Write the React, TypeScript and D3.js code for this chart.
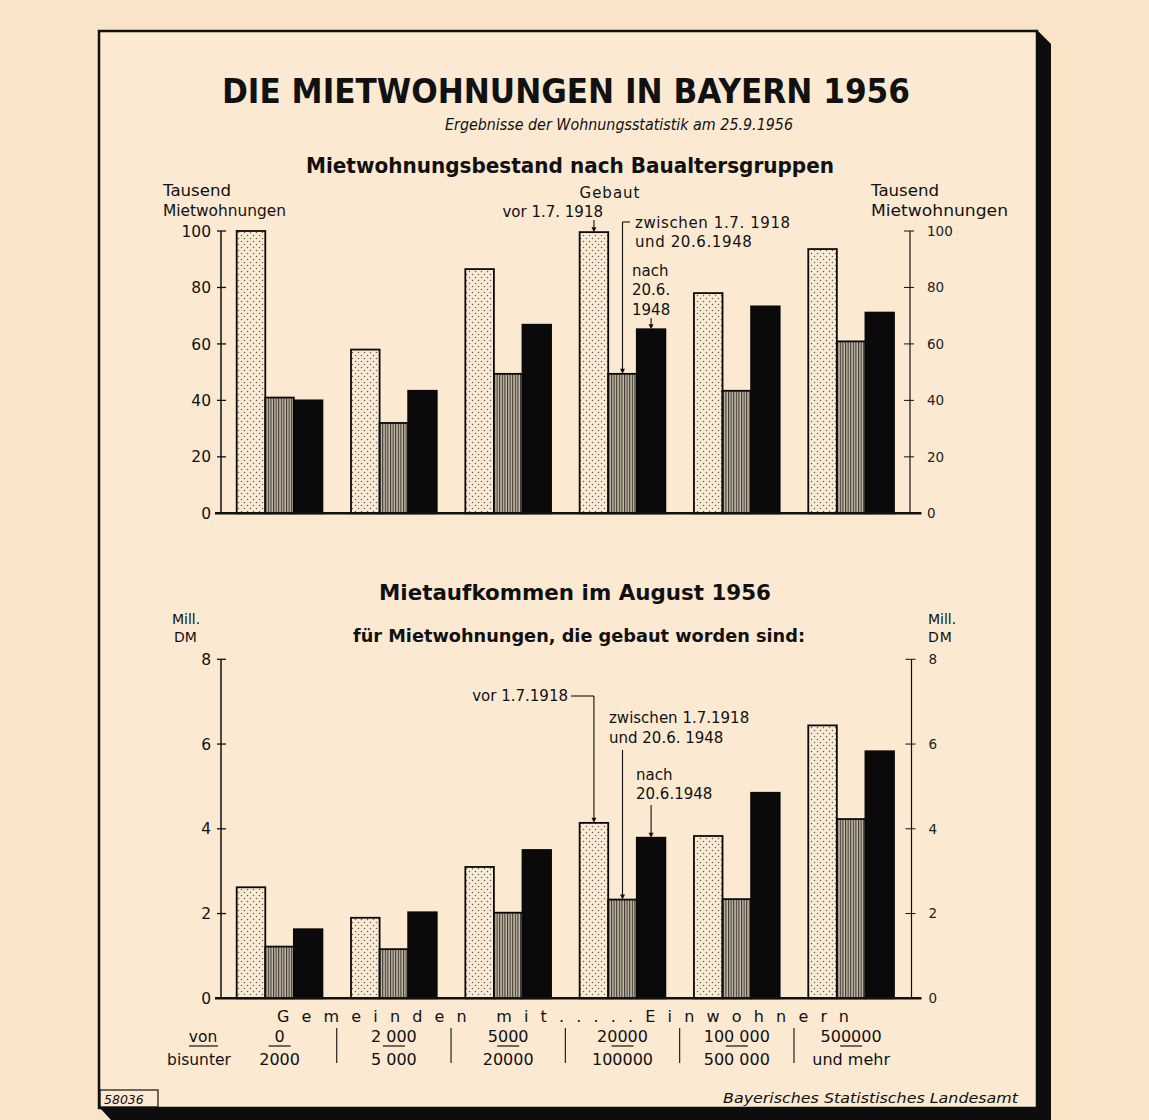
import React from "react";
import * as d3 from "d3";

const groups = ["0-2000", "2000-5000", "5000-20000", "20000-100000", "100000-500000", "500000+"];
const fromLabels = ["0", "2 000", "5000", "20000", "100 000", "500000"];
const toLabels = ["2000", "5 000", "20000", "100000", "500 000", "und mehr"];
const series = ["vor", "zwischen", "nach"];

const stockBefore1918 = [100, 58, 86.5, 99.6, 78, 93.6];
const stock1918to1948 = [41, 32, 49.4, 49.4, 43.4, 60.9];
const stockAfter1948 = [40, 43.4, 66.8, 65.2, 73.3, 71.1];

const rentBefore1918 = [2.62, 1.9, 3.1, 4.14, 3.83, 6.44];
const rent1918to1948 = [1.22, 1.16, 2.02, 2.33, 2.34, 4.23];
const rentAfter1948 = [1.63, 2.03, 3.5, 3.79, 4.85, 5.83];

const stockTicks = [0, 20, 40, 60, 80, 100];
const rentTicks = [0, 2, 4, 6, 8];

const W = 1149;
const H = 1120;
const BG = "#f9e4c7";
const PAPER = "#fbe9d1";
const FONT = "'DejaVu Sans', 'Liberation Sans', sans-serif";

const x0 = d3.scaleBand<string>().domain(groups).range([236.7, 894]).paddingInner(0.25).paddingOuter(0);
const x1 = d3.scaleBand<string>().domain(series).range([0, x0.bandwidth()]).padding(0);

const yTop = d3.scaleLinear().domain([0, 100]).range([513.3, 231]);
const yBot = d3.scaleLinear().domain([0, 8]).range([998.3, 659.3]);

const fills = ["url(#dots)", "url(#hatch)", "#0a0a0a"];

function Bars({ data, y }: { data: number[][]; y: d3.ScaleLinear<number, number> }) {
  return (
    <g>
      {groups.map((g, gi) =>
        series.map((s, si) => {
          const v = data[si][gi];
          const x = (x0(g) as number) + (x1(s) as number);
          return (
            <rect
              key={g + s}
              x={x}
              y={y(v)}
              width={x1.bandwidth()}
              height={y(0) - y(v)}
              fill={fills[si]}
              stroke="#0a0a0a"
              strokeWidth={1.8}
            />
          );
        })
      )}
    </g>
  );
}

function Axis({
  y,
  ticks,
  xLeft,
  xRight,
}: {
  y: d3.ScaleLinear<number, number>;
  ticks: number[];
  xLeft: number;
  xRight: number;
}) {
  const [y0, y1] = y.range();
  return (
    <g stroke="#111" fill="none">
      <line x1={xLeft} x2={xLeft} y1={y0} y2={y1} strokeWidth={1.5} />
      <line x1={xRight} x2={xRight} y1={y0} y2={y1} strokeWidth={1.2} />
      {ticks.map((t) => (
        <g key={t}>
          <line x1={xLeft - 4} x2={xLeft + 5} y1={y(t)} y2={y(t)} strokeWidth={1.3} />
          <line x1={xRight - 6} x2={xRight + 4} y1={y(t)} y2={y(t)} strokeWidth={1} />
          <text
            x={xLeft - 10}
            y={y(t)}
            dy="0.36em"
            textAnchor="end"
            stroke="none"
            fill="#111"
            fontSize={15.5}
            fontFamily={FONT}
          >
            {t}
          </text>
          <text
            x={xRight + 17}
            y={y(t)}
            dy="0.36em"
            textAnchor="start"
            stroke="none"
            fill="#222"
            fontSize={13.5}
            fontFamily={FONT}
          >
            {t}
          </text>
        </g>
      ))}
      <line x1={215} x2={921.5} y1={y0} y2={y0} strokeWidth={2.6} />
    </g>
  );
}

function Arrow({ x, yA, yB }: { x: number; yA: number; yB: number }) {
  return (
    <g>
      <line x1={x} x2={x} y1={yA} y2={yB - 4} stroke="#111" strokeWidth={1.1} />
      <path d={`M${x - 2.5},${yB - 5} L${x + 2.5},${yB - 5} L${x},${yB} Z`} fill="#111" />
    </g>
  );
}

export default function App() {
  const stock = [stockBefore1918, stock1918to1948, stockAfter1948];
  const rent = [rentBefore1918, rent1918to1948, rentAfter1948];
  const cx = (gi: number, si: number) => (x0(groups[gi]) as number) + (x1(series[si]) as number) + x1.bandwidth() / 2;
  const step = x0.step();
  const txt = { fontFamily: FONT, fill: "#111" } as const;

  return (
    <svg width={W} height={H} style={{ position: "absolute", left: 0, top: 0 }}>
      <defs>
        <pattern id="dots" width="6" height="6" patternUnits="userSpaceOnUse">
          <rect width="6" height="6" fill="#f8ead5" />
          <circle cx="1.5" cy="1.5" r="0.75" fill="#6a5e50" />
          <circle cx="4.5" cy="4.5" r="0.75" fill="#6a5e50" />
        </pattern>
        <pattern id="hatch" width="2.6" height="4" patternUnits="userSpaceOnUse">
          <rect width="2.6" height="4" fill="#c8bca8" />
          <rect width="1.1" height="4" fill="#3a352e" />
        </pattern>
      </defs>
      <rect width={W} height={H} fill={BG} />
      {/* frame */}
      <rect x={99} y={31} width={938} height={1077} fill={PAPER} stroke="#111" strokeWidth={2.5} />
      <path d="M1037,30 L1051,44 L1051,1120 L1037,1120 Z" fill="#0d0d0d" />
      <path d="M99,1107 L1051,1107 L1051,1120 L111,1120 Z" fill="#0d0d0d" />

      {/* titles */}
      <text x={566} y={103} textAnchor="middle" fontSize={34} fontWeight="bold" textLength={688} lengthAdjust="spacingAndGlyphs" {...txt}>
        DIE MIETWOHNUNGEN IN BAYERN 1956
      </text>
      <text x={619} y={130} textAnchor="middle" fontSize={15} fontStyle="italic" textLength={348} lengthAdjust="spacingAndGlyphs" {...txt}>
        Ergebnisse der Wohnungsstatistik am 25.9.1956
      </text>
      <text x={570} y={173} textAnchor="middle" fontSize={22} fontWeight={600} textLength={528} lengthAdjust="spacingAndGlyphs" {...txt}>
        Mietwohnungsbestand nach Baualtersgruppen
      </text>

      {/* top chart labels */}
      <text x={163} y={196} fontSize={15} textLength={68} lengthAdjust="spacingAndGlyphs" {...txt}>Tausend</text>
      <text x={163} y={216} fontSize={15} textLength={123} lengthAdjust="spacingAndGlyphs" {...txt}>Mietwohnungen</text>
      <text x={871} y={196} fontSize={15} textLength={68} lengthAdjust="spacingAndGlyphs" {...txt}>Tausend</text>
      <text x={871} y={216} fontSize={15} textLength={137} lengthAdjust="spacingAndGlyphs" {...txt}>Mietwohnungen</text>

      <Bars data={stock} y={yTop} />
      <Axis y={yTop} ticks={stockTicks} xLeft={221} xRight={910} />

      {/* top annotations */}
      <text x={610} y={198} textAnchor="middle" fontSize={15} letterSpacing={1} {...txt}>Gebaut</text>
      <text x={603} y={217} textAnchor="end" fontSize={15} {...txt}>vor 1.7. 1918</text>
      <Arrow x={cx(3, 0)} yA={220} yB={yTop(stockBefore1918[3])} />
      <text x={635} y={228} fontSize={15} letterSpacing={0.6} {...txt}>zwischen 1.7. 1918</text>
      <text x={635} y={247} fontSize={15} letterSpacing={0.6} {...txt}>und 20.6.1948</text>
      <path d={`M630,222 L${cx(3, 1)},222`} stroke="#111" strokeWidth={1.1} fill="none" />
      <Arrow x={cx(3, 1)} yA={222} yB={yTop(stock1918to1948[3])} />
      <text x={632} y={276} fontSize={15} {...txt}>nach</text>
      <text x={632} y={295} fontSize={15} {...txt}>20.6.</text>
      <text x={632} y={315} fontSize={15} {...txt}>1948</text>
      <Arrow x={cx(3, 2)} yA={318} yB={yTop(stockAfter1948[3])} />

      {/* bottom headings */}
      <text x={575} y={600} textAnchor="middle" fontSize={22} fontWeight="bold" textLength={392} lengthAdjust="spacingAndGlyphs" {...txt}>
        Mietaufkommen im August 1956
      </text>
      <text x={579} y={642} textAnchor="middle" fontSize={18} fontWeight={600} textLength={452} lengthAdjust="spacingAndGlyphs" {...txt}>
        für Mietwohnungen, die gebaut worden sind:
      </text>
      <text x={172} y={624} fontSize={14} {...txt}>Mill.</text>
      <text x={174} y={642} fontSize={14} {...txt}>DM</text>
      <text x={928} y={624} fontSize={14} {...txt}>Mill.</text>
      <text x={928} y={642} fontSize={14} letterSpacing={1} {...txt}>DM</text>

      <Bars data={rent} y={yBot} />
      <Axis y={yBot} ticks={rentTicks} xLeft={221} xRight={911.5} />

      {/* bottom annotations */}
      <text x={568} y={701} textAnchor="end" fontSize={15} {...txt}>vor 1.7.1918</text>
      <path d={`M571,696 L${cx(3, 0)},696`} stroke="#111" strokeWidth={1.1} fill="none" />
      <Arrow x={cx(3, 0)} yA={696} yB={yBot(rentBefore1918[3])} />
      <text x={609} y={723} fontSize={15} {...txt}>zwischen 1.7.1918</text>
      <text x={609} y={743} fontSize={15} {...txt}>und 20.6. 1948</text>
      <Arrow x={cx(3, 1)} yA={750} yB={yBot(rent1918to1948[3])} />
      <text x={636} y={780} fontSize={15} {...txt}>nach</text>
      <text x={636} y={799} fontSize={15} {...txt}>20.6.1948</text>
      <Arrow x={cx(3, 2)} yA={805} yB={yBot(rentAfter1948[3])} />

      {/* category labels */}
      <text x={563} y={1022} textAnchor="middle" fontSize={16} textLength={572} lengthAdjust="spacing" {...txt}>
        Gemeinden mit.....Einwohnern
      </text>
      <text x={203} y={1042} textAnchor="middle" fontSize={15.5} {...txt}>von</text>
      <line x1={189} x2={218} y1={1046} y2={1046} stroke="#111" strokeWidth={1.2} />
      <text x={199} y={1065} textAnchor="middle" fontSize={15.5} {...txt}>bisunter</text>
      {groups.map((g, gi) => {
        const c = (x0(g) as number) + x0.bandwidth() / 2;
        return (
          <g key={g}>
            <text x={c} y={1042} textAnchor="middle" fontSize={16} {...txt}>{fromLabels[gi]}</text>
            <line x1={c - 11} x2={c + 11} y1={1046} y2={1046} stroke="#111" strokeWidth={1.2} />
            <text x={c} y={1065} textAnchor="middle" fontSize={16} {...txt}>{toLabels[gi]}</text>
            {gi > 0 && (
              <line
                x1={(x0(g) as number) - (step - x0.bandwidth()) / 2}
                x2={(x0(g) as number) - (step - x0.bandwidth()) / 2}
                y1={1028}
                y2={1063}
                stroke="#111"
                strokeWidth={1.1}
              />
            )}
          </g>
        );
      })}

      {/* footer */}
      <rect x={100} y={1090} width={58} height={17} fill="none" stroke="#111" strokeWidth={1.2} />
      <text x={104} y={1104} fontSize={12.5} fontStyle="italic" {...txt}>58036</text>
      <text x={1018} y={1103} textAnchor="end" fontSize={13.5} fontStyle="italic" textLength={295} lengthAdjust="spacingAndGlyphs" {...txt}>
        Bayerisches Statistisches Landesamt
      </text>
    </svg>
  );
}
